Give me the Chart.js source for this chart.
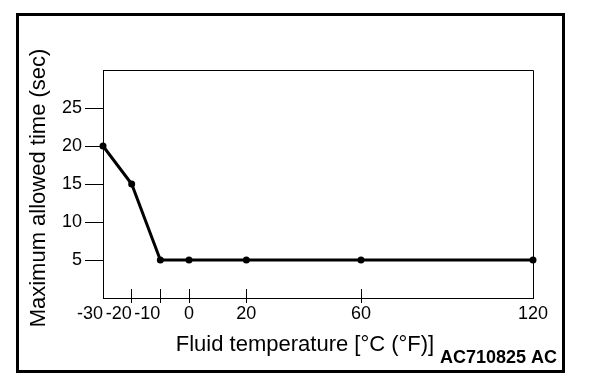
<!DOCTYPE html>
<html>
<head>
<meta charset="utf-8">
<script src="https://cdn.jsdelivr.net/npm/chart.js@4/dist/chart.umd.min.js"></script>
<style>
  body { margin: 0; background: #fff; }
  canvas { display: block; }
</style>
</head>
<body>
<canvas id="chart" width="608" height="386"></canvas>
<script>
// Data
const temps = [-30, -20, -10, 0, 20, 60, 120];
const times = [20, 15, 5, 5, 5, 5, 5];
const xTicks = [-30, -20, -10, 0, 20, 60, 120];
const yTicks = [5, 10, 15, 20, 25];

const xTitle = 'Fluid temperature [\u00B0C (\u00B0F)]';
const yTitle = 'Maximum allowed time (sec)';
const figId = 'AC710825 AC';

const FONT = '"Liberation Sans", Arial, Helvetica, sans-serif';

// Frame, plot box and titles
const decorations = {
    id: 'decorations',
    afterDraw(chart) {
        const { ctx, chartArea: a } = chart;
        ctx.save();
        ctx.strokeStyle = '#000';
        ctx.lineWidth = 1;
        ctx.beginPath();
        ctx.moveTo(a.left, a.top + 0.5);
        ctx.lineTo(a.right + 0.5, a.top + 0.5);
        ctx.lineTo(a.right + 0.5, a.bottom);
        ctx.stroke();

        ctx.lineWidth = 3;
        ctx.strokeRect(17.5, 14.5, 546, 357);

        ctx.fillStyle = '#000';
        ctx.font = '22px ' + FONT;
        ctx.textAlign = 'center';
        ctx.textBaseline = 'alphabetic';
        ctx.fillText(xTitle, 305, 351);

        ctx.save();
        ctx.translate(45, 188);
        ctx.rotate(-Math.PI / 2);
        ctx.fillText(yTitle, 0, 0);
        ctx.restore();

        ctx.font = 'bold 18px ' + FONT;
        ctx.textAlign = 'right';
        ctx.fillText(figId, 557, 363);
        ctx.restore();
    }
};

const setTicks = values => scale => {
    scale.ticks = values.map(v => ({ value: v }));
};
const edgeTick = v => v === xTicks[0] || v === xTicks[xTicks.length - 1];

new Chart(document.getElementById('chart'), {
    type: 'line',
    data: {
        datasets: [{
            data: temps.map((t, i) => ({ x: t, y: times[i] })),
            borderColor: '#000',
            borderWidth: 3,
            backgroundColor: '#000',
            pointRadius: 3.5,
            pointBorderWidth: 0,
            pointHoverRadius: 3.5,
            tension: 0,
            clip: false
        }]
    },
    options: {
        responsive: false,
        animation: false,
        devicePixelRatio: 1,
        layout: { padding: { left: 0, top: 70, right: 75, bottom: 0 } },
        plugins: {
            legend: { display: false },
            tooltip: { enabled: false }
        },
        scales: {
            x: {
                type: 'linear',
                min: -30,
                max: 120,
                afterBuildTicks: setTicks(xTicks),
                afterFit: scale => { scale.height = 88; },
                border: { color: '#000', width: 1 },
                grid: {
                    drawOnChartArea: false,
                    tickLength: -9,
                    tickColor: '#000'
                },
                ticks: {
                    autoSkip: false,
                    maxRotation: 0,
                    minRotation: 0,
                    padding: 14,
                    color: '#000',
                    font: { family: FONT, size: 18 },
                    callback: v => (v < 0 ? '' : String(v))
                }
            },
            x2: {
                type: 'linear',
                position: { y: 0 },
                axis: 'x',
                min: -30,
                max: 120,
                afterBuildTicks: setTicks(xTicks),
                border: { display: false },
                grid: {
                    drawOnChartArea: false,
                    tickLength: 5,
                    tickColor: ctx => (edgeTick(ctx.tick.value) ? 'rgba(0,0,0,0)' : '#000')
                },
                ticks: {
                    autoSkip: false,
                    maxRotation: 0,
                    minRotation: 0,
                    align: 'end',
                    padding: 0,
                    color: '#000',
                    font: { family: FONT, size: 18 },
                    callback: v => (v < 0 ? String(v) : '')
                }
            },
            y: {
                type: 'linear',
                min: 0,
                max: 30,
                afterBuildTicks: setTicks(yTicks),
                afterFit: scale => { scale.width = 103; },
                border: { color: '#000', width: 1 },
                grid: {
                    drawOnChartArea: false,
                    tickLength: 18,
                    tickColor: '#000'
                },
                ticks: {
                    padding: 3,
                    color: '#000',
                    font: { family: FONT, size: 18 }
                }
            }
        }
    },
    plugins: [decorations]
});
</script>
</body>
</html>
